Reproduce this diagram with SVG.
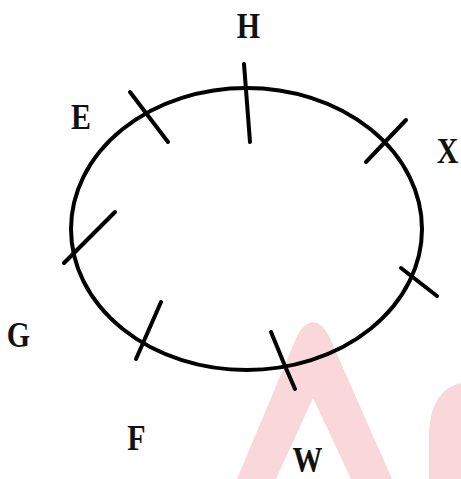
<svg xmlns="http://www.w3.org/2000/svg" width="461" height="479" viewBox="0 0 461 479">
<style>
.lbl{font-family:"Liberation Serif","Times New Roman",serif;font-weight:bold;font-size:30px;fill:#111;text-anchor:middle}
.ln{stroke:#000;stroke-width:4;fill:none;stroke-linecap:round}
.wm{fill:#f9d7db;stroke:none}
</style>
<rect width="461" height="479" fill="#fff"/>
<g id="watermark">
<path class="wm" fill-rule="evenodd" d="M237 479 L297 336 Q313 308 329 336 L392 479 Z M276 479 L313 398 L351 479 Z"/>
<path class="wm" d="M461 383 Q431 390 429 432 L429 479 L461 479 Z"/>
</g>
<g id="connectors">
<ellipse id="ring" class="ln" cx="246.5" cy="229" rx="175.5" ry="141"/>
<line class="ln" x1="130" y1="92" x2="168" y2="142"/>
<line class="ln" x1="244" y1="64" x2="250" y2="142"/>
<line class="ln" x1="406" y1="120" x2="366" y2="162"/>
<line class="ln" x1="115" y1="212" x2="64" y2="263"/>
<line class="ln" x1="401" y1="268" x2="437" y2="296"/>
<line class="ln" x1="161" y1="302" x2="136" y2="359"/>
<polyline class="ln" points="271,332 285,366 295,389"/>
</g>
<g id="node-H" transform="translate(248.5,38) scale(1,1.2)"><text class="lbl">H</text></g>
<g id="node-E" transform="translate(81,129) scale(1,1.2)"><text class="lbl">E</text></g>
<g id="node-X" transform="translate(447.5,163) scale(1,1.2)"><text class="lbl">X</text></g>
<g id="node-G" transform="translate(18.5,347) scale(1,1.2)"><text class="lbl">G</text></g>
<g id="node-F" transform="translate(136.5,450) scale(1,1.2)"><text class="lbl">F</text></g>
<g id="node-W" transform="translate(307.5,472) scale(1,1.2)"><text class="lbl">W</text></g>
</svg>
